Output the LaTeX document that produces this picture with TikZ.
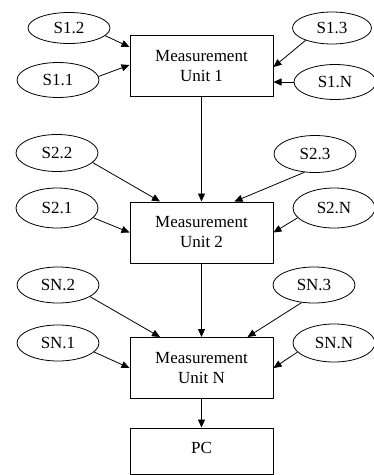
\documentclass[tikz,border=0pt]{standalone}
\usepackage{fontspec}
\setmainfont{Liberation Serif}
\usetikzlibrary{arrows.meta,shapes.geometric}
\begin{document}
\begin{tikzpicture}[x=1pt,y=-1pt,
  font=\fontsize{17}{20}\selectfont,
  sensor/.style={draw,ellipse,line width=0.8pt,minimum width=82pt,minimum height=35pt,inner sep=0pt},
  unit/.style={draw,rectangle,line width=1pt,minimum width=143pt,minimum height=61pt,align=center,inner sep=0pt},
  link/.style={line width=0.8pt,-{Triangle[length=8pt,width=7pt]}}]
\useasboundingbox (0,0) rectangle (374,475);

% measurement units and PC
\node[unit] (u1) at (201.5,66) {Measurement\\Unit 1};
\node[unit] (u2) at (201.5,232.5) {Measurement\\Unit 2};
\node[unit] (un) at (201.5,368) {Measurement\\Unit N};
\node[unit,minimum height=46pt] (pc) at (201.5,451) {\raisebox{6pt}{PC}};

% sensors of unit 1
\node[sensor,minimum height=31pt] (s12) at (69,28) {S1.2};
\node[sensor] (s11) at (58,80) {S1.1};
\node[sensor,minimum width=79pt,minimum height=32pt] (s13) at (332,28) {S1.3};
\node[sensor] (s1n) at (335,82) {S1.N};

% sensors of unit 2
\node[sensor,minimum height=37pt] (s22) at (57,153) {S2.2};
\node[sensor,minimum height=40pt] (s21) at (57,208) {S2.1};
\node[sensor,minimum height=37pt] (s23) at (315,154) {S2.3};
\node[sensor,minimum height=40pt] (s2n) at (334,208) {S2.N};

% sensors of unit N
\node[sensor,minimum height=36pt] (sn2) at (58,285) {SN.2};
\node[sensor,minimum height=36pt] (sn1) at (58,343) {SN.1};
\node[sensor,minimum height=36pt] (sn3) at (314,285) {SN.3};
\node[sensor,minimum height=38pt] (snn) at (334,343) {SN.N};

% sensor links
\draw[link] (s12.-12) -- ([yshift=19pt]u1.west);
\draw[link] (s11.5) -- ([yshift=1pt]u1.west);
\draw[link] (s13.205) -- ([yshift=-1pt]u1.east);
\draw[link] (s1n.180) -- ([yshift=-16pt]u1.east);

\draw[link] (s22.-15) -- ([xshift=-41.5pt]u2.north);
\draw[link] (s23.240) -- ([xshift=33pt]u2.north);
\draw[link] (s21.-15) -- (u2.west);
\draw[link] (s2n.195) -- (u2.east);

\draw[link] (sn2.-20) -- ([xshift=-41.5pt]un.north);
\draw[link] (sn3.235) -- ([xshift=46pt]un.north);
\draw[link] (sn1.-14) -- (un.west);
\draw[link] (snn.194) -- (un.east);

% chain between units
\draw[link] (u1) -- (u2);
\draw[link] (u2) -- (un);
\draw[link] (un) -- (pc);
\end{tikzpicture}
\end{document}
